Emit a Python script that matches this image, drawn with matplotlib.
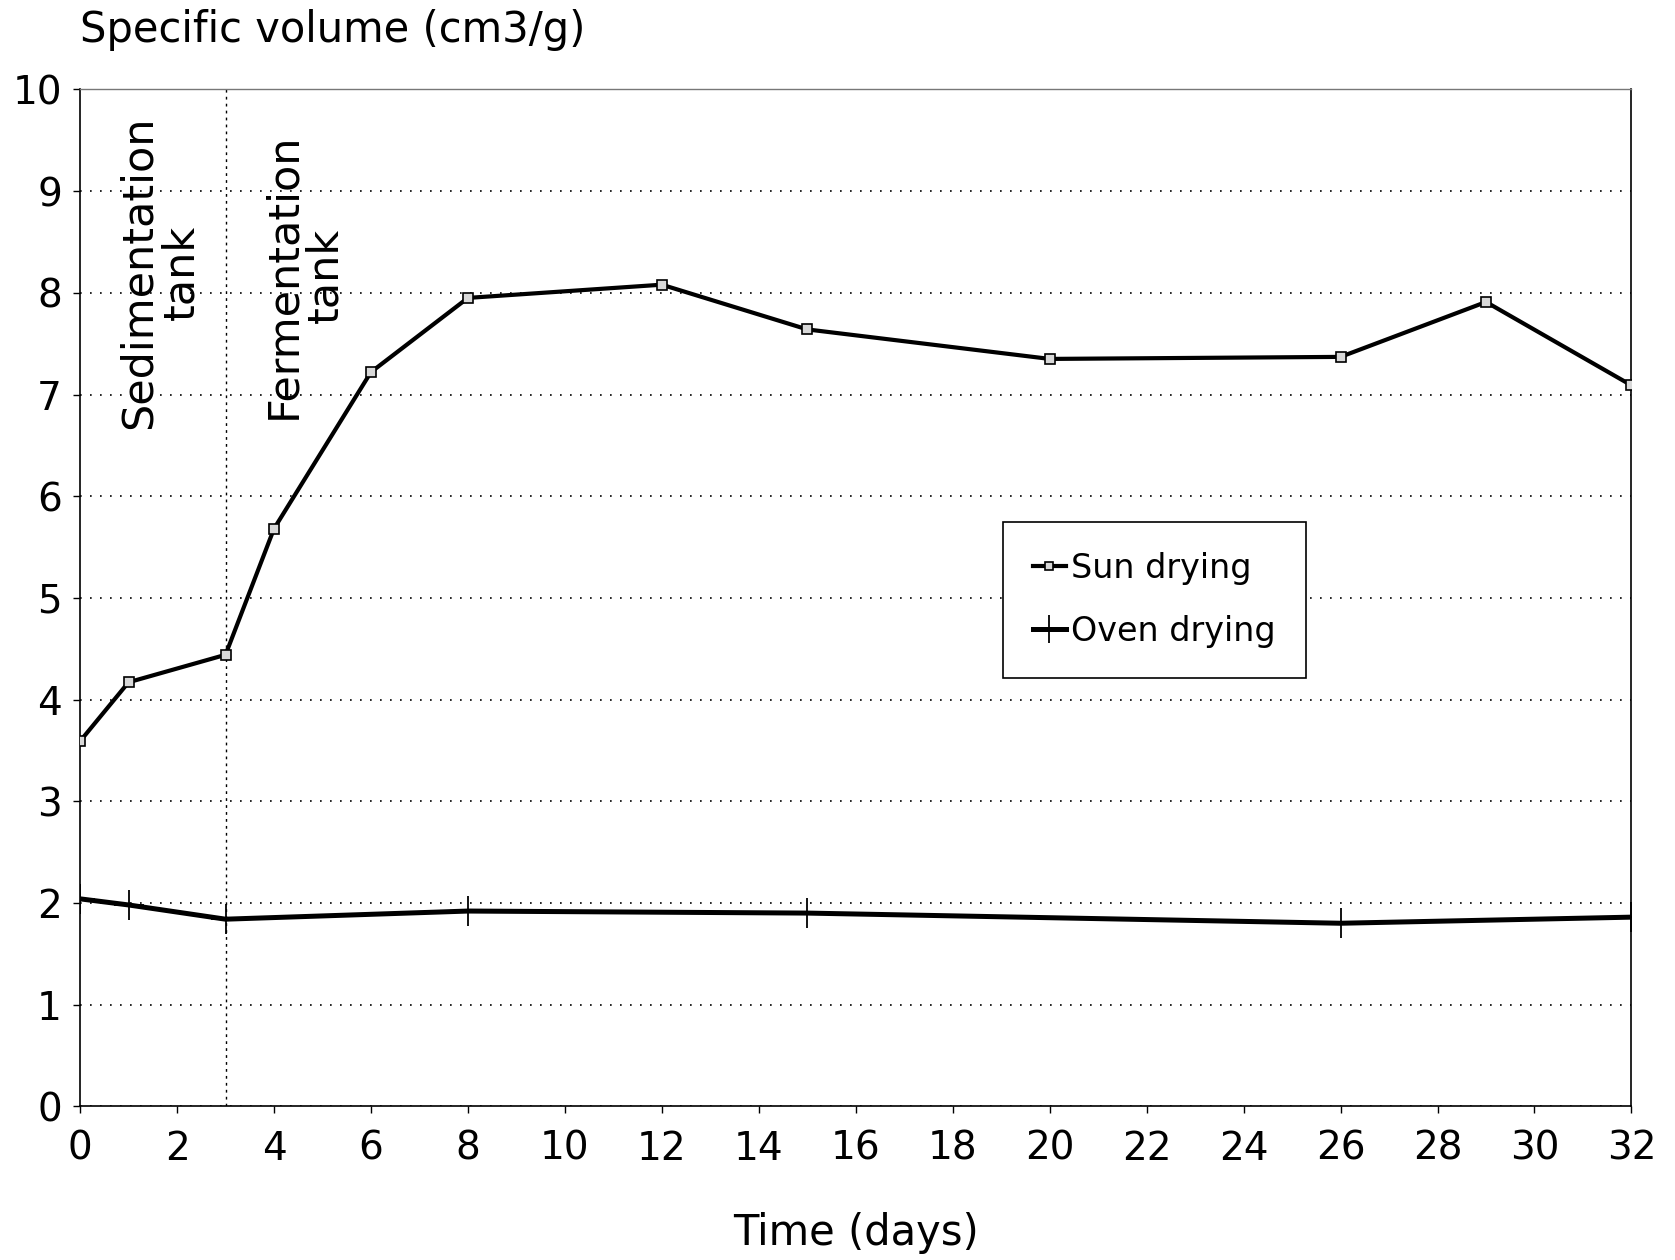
import matplotlib
matplotlib.use("Agg")
import matplotlib.pyplot as plt

plt.rcParams['font.family'] = ['DejaVu Sans']

# Time points (days) and specific volume (cm3/g)
sun_days = [0, 1, 3, 4, 6, 8, 12, 15, 20, 26, 29, 32]
sun_volume = [3.59, 4.17, 4.44, 5.68, 7.22, 7.95, 8.08, 7.64, 7.35, 7.37, 7.91, 7.09]

oven_days = [0, 1, 3, 8, 15, 26, 32]
oven_volume = [2.04, 1.98, 1.84, 1.92, 1.90, 1.80, 1.86]

x_ticks = list(range(0, 33, 2))
y_ticks = list(range(0, 11))
stage_boundary = 3

fig = plt.figure(figsize=(16.75, 12.6), dpi=100)
ax = fig.add_axes([0.0478, 0.122, 0.9262, 0.807])

ax.plot(sun_days, sun_volume, color='black', lw=3.0, marker='s', ms=7,
        mfc='#d8d8d8', mec='black', mew=1.2, label='Sun drying', zorder=4)
ax.plot(oven_days, oven_volume, color='black', lw=3.6, marker='+', ms=22,
        mew=1.3, label='Oven drying', zorder=3)

ax.axvline(stage_boundary, color='black', lw=1.0, ls=(0, (2, 3)), zorder=2)

ax.set_xlim(0, 32)
ax.set_ylim(0, 10)
ax.set_xticks(x_ticks)
ax.set_yticks(y_ticks)
ax.tick_params(axis='x', labelsize=28, length=5, width=1, direction='out', pad=12)
ax.tick_params(axis='y', labelsize=28, length=5, width=1, direction='out', pad=8)

ax.yaxis.grid(True, color='black', lw=1.2, ls=(0, (1, 5)))
ax.set_axisbelow(True)
for side in ['left', 'bottom', 'right']:
    ax.spines[side].set_color('black')
    ax.spines[side].set_linewidth(1.2)
ax.spines['top'].set_color('#777777')
ax.spines['top'].set_linewidth(1.0)

ax.set_xlabel('Time (days)', fontsize=30, labelpad=32)
fig.text(0.048, 0.976, 'Specific volume (cm3/g)', fontsize=30, ha='left', va='center')

ax.text(1.65, 9.74, 'Sedimentation\ntank', rotation=90, ha='center', va='top',
        multialignment='center', fontsize=31, linespacing=1.0)
ax.text(4.63, 9.58, 'Fermentation\ntank', rotation=90, ha='center', va='top',
        multialignment='center', fontsize=31, linespacing=1.0)

leg = ax.legend(loc='upper left', bbox_to_anchor=(0.584, 0.591), fontsize=24,
                frameon=True, fancybox=False, framealpha=1, edgecolor='black',
                handlelength=1.0, handletextpad=0.15, borderpad=0.9,
                labelspacing=0.9, markerscale=0.9)
leg.get_frame().set_linewidth(1.2)

fig.savefig('out.png', dpi=100, facecolor='white')
